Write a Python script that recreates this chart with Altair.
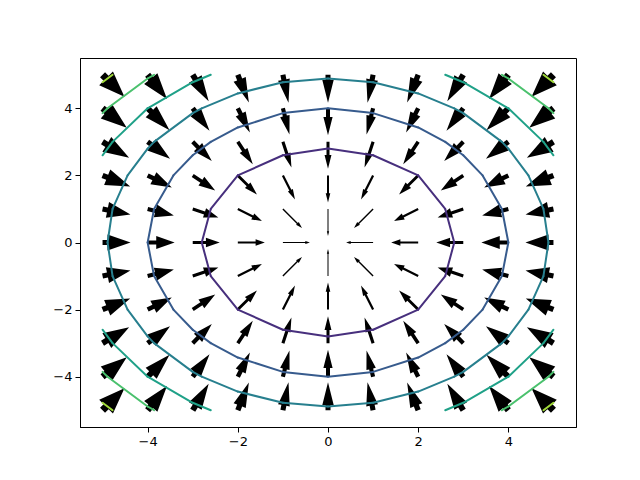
import math
import altair as alt
import pandas as pd

# grid of sample points
xs = [-5, -4, -3, -2, -1, 0, 1, 2, 3, 4, 5]
ys = [-5, -4, -3, -2, -1, 0, 1, 2, 3, 4, 5]
# contour levels of the scalar field and their colours (viridis)
levels = [8, 16, 24, 32, 40, 48]
level_colors = ["#472f7d", "#375b8d", "#277f8e", "#1fa188", "#4ac16d", "#a0da39"]
ticks = [-4, -2, 0, 2, 4]


def field(x, y):
    return x * x + y * y


# ---- arrows (direction = -grad, width grows with magnitude) ----
arrow_rows = []
for x in xs:
    for y in ys:
        u, v = -x, -y
        r = math.hypot(u, v)
        if r == 0:
            continue
        ang = math.degrees(math.atan2(-v, u)) % 360
        c2 = (u / r) ** 2
        s2 = (v / r) ** 2
        w = 1.0 * r
        h = w / 2
        hw = w * (1.6 * c2 + 1.15 * s2)
        hl = min(4.6 * w, 26)
        L = max(27, hl + 5)
        b = L - hl
        path = (f"M0,{-h:.2f}L{b:.2f},{-h:.2f}L{b:.2f},{-hw:.2f}L{L:.2f},0"
                f"L{b:.2f},{hw:.2f}L{b:.2f},{h:.2f}L0,{h:.2f}Z")
        arrow_rows.append({"x": x, "y": y, "angle": ang, "path": path})
adf = pd.DataFrame(arrow_rows)


# ---- contour lines via marching squares ----
def interp(p, q, zp, zq, c):
    t = (c - zp) / (zq - zp)
    return (p[0] + t * (q[0] - p[0]), p[1] + t * (q[1] - p[1]))


segs = []
for c in levels:
    for i in range(len(xs) - 1):
        for j in range(len(ys) - 1):
            corners = [(xs[i], ys[j]), (xs[i + 1], ys[j]),
                       (xs[i + 1], ys[j + 1]), (xs[i], ys[j + 1])]
            zs = [field(*p) for p in corners]
            pts = []
            for k in range(4):
                a, bb = k, (k + 1) % 4
                if (zs[a] >= c) != (zs[bb] >= c):
                    pts.append(interp(corners[a], corners[bb], zs[a], zs[bb], c))
            pairs = []
            if len(pts) == 2:
                pairs = [(pts[0], pts[1])]
            elif len(pts) == 4:
                pairs = [(pts[0], pts[1]), (pts[2], pts[3])]
            for p, q in pairs:
                segs.append({"x": p[0], "y": p[1], "x2": q[0], "y2": q[1], "level": c})
sdf = pd.DataFrame(segs)

xscale = alt.Scale(domain=[-5.5, 5.5], nice=False, zero=False)
yscale = alt.Scale(domain=[-5.5, 5.5], nice=False, zero=False)
xaxis = alt.Axis(values=ticks, title=None, grid=False)
yaxis = alt.Axis(values=ticks, title=None, grid=False)

arrows = alt.Chart(adf).mark_point(filled=True, color="black", opacity=1, strokeWidth=0).encode(
    x=alt.X("x:Q", scale=xscale, axis=xaxis),
    y=alt.Y("y:Q", scale=yscale, axis=yaxis),
    shape=alt.Shape("path:N", scale=None),
    angle=alt.Angle("angle:Q", scale=None),
    size=alt.value(4),
)

lines = alt.Chart(sdf).mark_rule(strokeWidth=2, strokeCap="round").encode(
    x=alt.X("x:Q", scale=xscale, axis=xaxis),
    y=alt.Y("y:Q", scale=yscale, axis=yaxis),
    x2="x2:Q",
    y2="y2:Q",
    color=alt.Color("level:O", scale=alt.Scale(domain=levels, range=level_colors), legend=None),
)

chart = alt.layer(arrows, lines).properties(
    width=496, height=369,
    padding={"left": 72, "top": 50, "right": 50, "bottom": 40},
    autosize="none",
).configure_view(
    stroke="black", strokeWidth=1
).configure_axis(
    domainColor="black", domainWidth=1, tickColor="black", tickWidth=1, tickSize=5,
    labelFont="DejaVu Sans", labelFontSize=13, labelColor="black", labelPadding=3,
    grid=False,
)

chart.save("out.html", embed_options={"renderer": "svg", "actions": False})
